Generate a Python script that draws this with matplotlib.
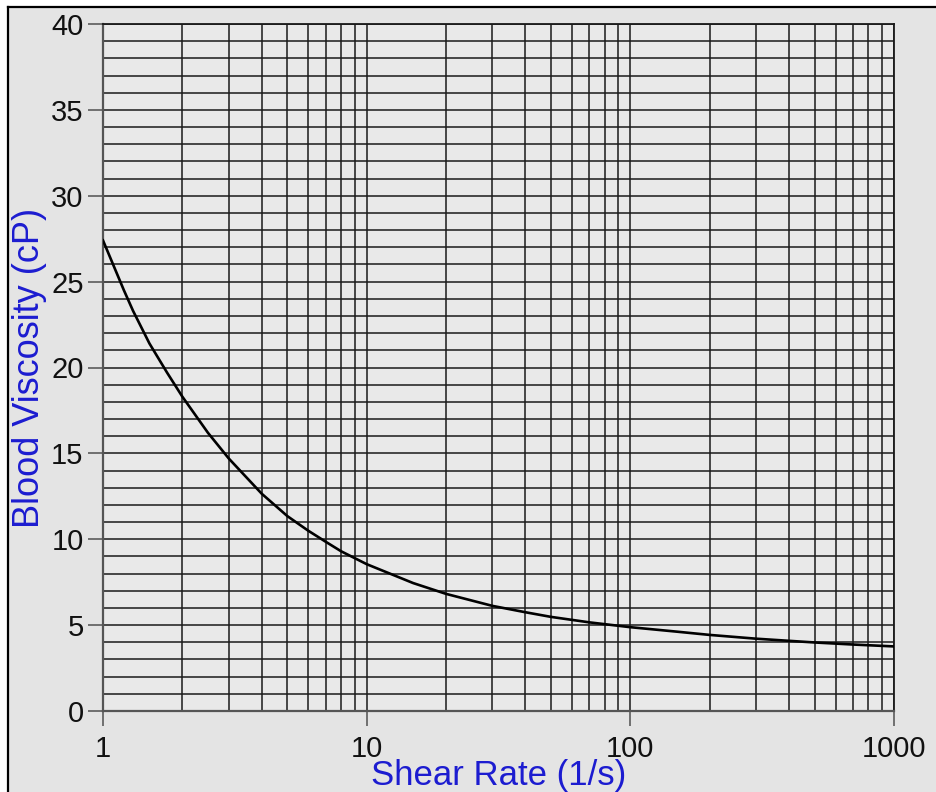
import matplotlib
matplotlib.use("Agg")
import matplotlib.pyplot as plt
from matplotlib.ticker import FixedLocator, MultipleLocator, NullFormatter
from matplotlib.patches import Rectangle
from matplotlib.lines import Line2D

# Shear-thinning viscosity readings
shear_rate = [1, 1.2, 1.3, 1.5, 1.75, 2, 2.5, 3, 4, 5, 6, 7, 8, 10, 15, 20,
              30, 40, 50, 70, 100, 150, 200, 300, 500, 700, 1000]
viscosity = [27.4, 24.5, 23.3, 21.4, 19.7, 18.3, 16.2, 14.7, 12.65, 11.35,
             10.5, 9.85, 9.3, 8.55, 7.45, 6.82, 6.12, 5.75, 5.48, 5.16, 4.88,
             4.62, 4.43, 4.21, 3.99, 3.87, 3.76]

x_ticks = [1, 10, 100, 1000]
x_tick_labels = ["1", "10", "100", "1000"]
y_ticks = [0, 5, 10, 15, 20, 25, 30, 35, 40]

W, H = 936, 792
plt.rcParams['font.family'] = ['Liberation Sans', 'DejaVu Sans']

fig = plt.figure(figsize=(W / 100, H / 100), dpi=100, facecolor="#e4e4e4")

# window frame: white margin with a dark edge on the left and top
fig.add_artist(Rectangle((0, 0), 7.5 / W, 1, transform=fig.transFigure,
                         facecolor="white", edgecolor="none", zorder=-5))
fig.add_artist(Rectangle((0, 1 - 6.5 / H), 1, 6.5 / H, transform=fig.transFigure,
                         facecolor="white", edgecolor="none", zorder=-5))
fig.add_artist(Line2D([8 / W, 8 / W], [0, 1 - 7 / H], transform=fig.transFigure,
                      color="black", lw=1.6))
fig.add_artist(Line2D([8 / W, 1], [1 - 7 / H, 1 - 7 / H], transform=fig.transFigure,
                      color="black", lw=1.6))

left, right = 103 / W, 894 / W
bottom, top = 1 - 711 / H, 1 - 24 / H
ax = fig.add_axes([left, bottom, right - left, top - bottom], facecolor="#e9e9e9")

ax.set_xscale("log")
ax.set_xlim(1, 1000)
ax.set_ylim(0, 40)

ax.xaxis.set_major_locator(FixedLocator(x_ticks))
ax.set_xticklabels(x_tick_labels)
minor_x = [m * d for d in (1, 10, 100) for m in range(2, 10)]
ax.xaxis.set_minor_locator(FixedLocator(minor_x))
ax.xaxis.set_minor_formatter(NullFormatter())
ax.yaxis.set_major_locator(FixedLocator(y_ticks))
ax.yaxis.set_minor_locator(MultipleLocator(1))

ax.grid(True, which="both", color="#1a1a1a", lw=1.1)
ax.set_axisbelow(True)

ax.plot(shear_rate, viscosity, color="black", lw=1.9, zorder=3,
        solid_joinstyle="round")

ax.tick_params(axis="both", which="major", direction="out", length=11,
               width=1.3, color="#666666", labelsize=21, labelcolor="#111111")
ax.tick_params(axis="y", which="major", pad=3)
ax.tick_params(axis="x", which="major", pad=6)
ax.tick_params(axis="both", which="minor", length=0)

for side in ("left", "bottom"):
    ax.spines[side].set_color("#555555")
    ax.spines[side].set_linewidth(1.6)
for side in ("top", "right"):
    ax.spines[side].set_color("#1a1a1a")
    ax.spines[side].set_linewidth(1.3)

ax.set_xlabel("Shear Rate (1/s)", color="#1c1cd0", fontsize=25)
ax.set_ylabel("Blood Viscosity (cP)", color="#1c1cd0", fontsize=26)
ax.xaxis.set_label_coords(0.5, -0.070)
ax.yaxis.set_label_coords(-0.071, 0.5)

fig.savefig("out.png", dpi=100, facecolor=fig.get_facecolor())
